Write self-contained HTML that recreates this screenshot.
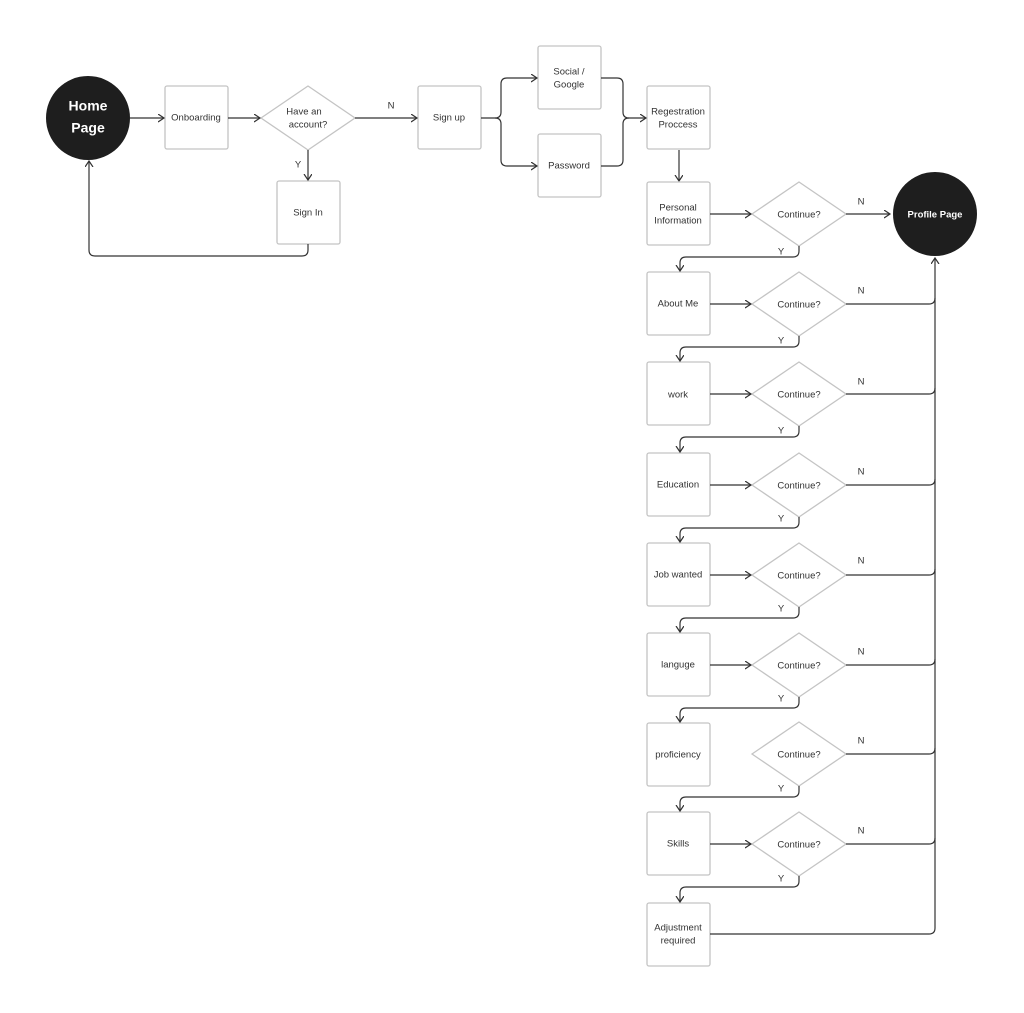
<!DOCTYPE html>
<html><head><meta charset="utf-8"><style>
html,body{margin:0;padding:0;background:#fff;}
svg{display:block}
text{font-family:"Liberation Sans",sans-serif;font-size:9.5px;fill:#333;text-anchor:middle;dominant-baseline:middle}
.b{fill:#fff;stroke:#c4c4c4;stroke-width:1.3}
.l{fill:none;stroke:#333;stroke-width:1.2}
</style></head><body>
<svg width="1024" height="1013" viewBox="0 0 1024 1013" xmlns="http://www.w3.org/2000/svg">
<defs><marker id="a" markerWidth="8" markerHeight="10" refX="6" refY="4" orient="auto" markerUnits="userSpaceOnUse"><path d="M0,0 L6,4 L0,8" fill="none" stroke="#333" stroke-width="1.2"/></marker></defs>

<!-- top section -->
<circle cx="88" cy="118" r="42" fill="#1e1e1e"/>
<text x="88" y="107" style="fill:#fff;font-size:14px;font-weight:bold">Home</text>
<text x="88" y="129" style="fill:#fff;font-size:14px;font-weight:bold">Page</text>
<rect class="b" x="165" y="86" width="63" height="63" rx="2"/><text x="196" y="118">Onboarding</text>
<polygon class="b" points="261,118 308,86 355,118 308,150"/><text x="304" y="112">Have an</text><text x="308" y="125">account?</text>
<rect class="b" x="418" y="86" width="63" height="63" rx="2"/><text x="449" y="118">Sign up</text>
<rect class="b" x="277" y="181" width="63" height="63" rx="2"/><text x="308" y="213">Sign In</text>
<rect class="b" x="538" y="46" width="63" height="63" rx="2"/><text x="569" y="72">Social /</text><text x="569" y="85">Google</text>
<rect class="b" x="538" y="134" width="63" height="63" rx="2"/><text x="569" y="166">Password</text>
<rect class="b" x="647" y="86" width="63" height="63" rx="2"/><text x="678" y="112">Regestration</text><text x="678" y="125">Proccess</text>

<path class="l" d="M130,118 H164" marker-end="url(#a)"/>
<path class="l" d="M228,118 H260" marker-end="url(#a)"/>
<path class="l" d="M355,118 H417" marker-end="url(#a)"/>
<text x="391" y="106">N</text>
<path class="l" d="M308,150 V180" marker-end="url(#a)"/>
<text x="298" y="165">Y</text>
<path class="l" d="M308,244 V250 Q308,256 302,256 H95 Q89,256 89,250 V161" marker-end="url(#a)"/>
<path class="l" d="M481,118 H495 Q501,118 501,112 V84 Q501,78 507,78 H537" marker-end="url(#a)"/>
<path class="l" d="M495,118 Q501,118 501,124 V160 Q501,166 507,166 H537" marker-end="url(#a)"/>
<path class="l" d="M601,78 H617 Q623,78 623,84 V112 Q623,118 629,118 H646" marker-end="url(#a)"/>
<path class="l" d="M601,166 H617 Q623,166 623,160 V124 Q623,118 629,118"/>
<path class="l" d="M679,150 V181" marker-end="url(#a)"/>

<!-- profile -->
<circle cx="935" cy="214" r="42" fill="#1e1e1e"/>
<text x="935" y="215" style="fill:#fff;font-weight:bold">Profile Page</text>

<!-- rows -->
<rect class="b" x="647" y="182" width="63" height="63" rx="2"/><text x="678" y="208">Personal</text><text x="678" y="221">Information</text>
<rect class="b" x="647" y="272" width="63" height="63" rx="2"/><text x="678" y="304">About Me</text>
<rect class="b" x="647" y="362" width="63" height="63" rx="2"/><text x="678" y="395">work</text>
<rect class="b" x="647" y="453" width="63" height="63" rx="2"/><text x="678" y="485">Education</text>
<rect class="b" x="647" y="543" width="63" height="63" rx="2"/><text x="678" y="575">Job wanted</text>
<rect class="b" x="647" y="633" width="63" height="63" rx="2"/><text x="678" y="665">languge</text>
<rect class="b" x="647" y="723" width="63" height="63" rx="2"/><text x="678" y="755">proficiency</text>
<rect class="b" x="647" y="812" width="63" height="63" rx="2"/><text x="678" y="844">Skills</text>
<rect class="b" x="647" y="903" width="63" height="63" rx="2"/><text x="678" y="928">Adjustment</text><text x="678" y="941">required</text>

<g>
<polygon class="b" points="752,214 799,182 846,214 799,246"/><text x="799" y="215">Continue?</text>
<polygon class="b" points="752,304 799,272 846,304 799,336"/><text x="799" y="305">Continue?</text>
<polygon class="b" points="752,394 799,362 846,394 799,426"/><text x="799" y="395">Continue?</text>
<polygon class="b" points="752,485 799,453 846,485 799,517"/><text x="799" y="486">Continue?</text>
<polygon class="b" points="752,575 799,543 846,575 799,607"/><text x="799" y="576">Continue?</text>
<polygon class="b" points="752,665 799,633 846,665 799,697"/><text x="799" y="666">Continue?</text>
<polygon class="b" points="752,754 799,722 846,754 799,786"/><text x="799" y="755">Continue?</text>
<polygon class="b" points="752,844 799,812 846,844 799,876"/><text x="799" y="845">Continue?</text>
</g>

<!-- box->diamond -->
<path class="l" d="M710,214 H751" marker-end="url(#a)"/>
<path class="l" d="M710,304 H751" marker-end="url(#a)"/>
<path class="l" d="M710,394 H751" marker-end="url(#a)"/>
<path class="l" d="M710,485 H751" marker-end="url(#a)"/>
<path class="l" d="M710,575 H751" marker-end="url(#a)"/>
<path class="l" d="M710,665 H751" marker-end="url(#a)"/>
<path class="l" d="M710,844 H751" marker-end="url(#a)"/>

<!-- Y connectors -->
<path class="l" d="M799,246 V251 Q799,257 793,257 H686 Q680,257 680,263 V271" marker-end="url(#a)"/>
<path class="l" d="M799,336 V341 Q799,347 793,347 H686 Q680,347 680,353 V361" marker-end="url(#a)"/>
<path class="l" d="M799,426 V431 Q799,437 793,437 H686 Q680,437 680,443 V452" marker-end="url(#a)"/>
<path class="l" d="M799,517 V522 Q799,528 793,528 H686 Q680,528 680,534 V542" marker-end="url(#a)"/>
<path class="l" d="M799,607 V612 Q799,618 793,618 H686 Q680,618 680,624 V632" marker-end="url(#a)"/>
<path class="l" d="M799,697 V702 Q799,708 793,708 H686 Q680,708 680,714 V722" marker-end="url(#a)"/>
<path class="l" d="M799,786 V791 Q799,797 793,797 H686 Q680,797 680,803 V811" marker-end="url(#a)"/>
<path class="l" d="M799,876 V881 Q799,887 793,887 H686 Q680,887 680,893 V902" marker-end="url(#a)"/>
<text x="781" y="252">Y</text><text x="781" y="341">Y</text><text x="781" y="431">Y</text><text x="781" y="519">Y</text>
<text x="781" y="609">Y</text><text x="781" y="699">Y</text><text x="781" y="789">Y</text><text x="781" y="879">Y</text>

<!-- N connectors -->
<path class="l" d="M846,214 H890" marker-end="url(#a)"/>
<path class="l" d="M846,304 H929 Q935,304 935,298"/>
<path class="l" d="M846,394 H929 Q935,394 935,388"/>
<path class="l" d="M846,485 H929 Q935,485 935,479"/>
<path class="l" d="M846,575 H929 Q935,575 935,569"/>
<path class="l" d="M846,665 H929 Q935,665 935,659"/>
<path class="l" d="M846,754 H929 Q935,754 935,748"/>
<path class="l" d="M846,844 H929 Q935,844 935,838"/>
<path class="l" d="M710,934 H929 Q935,934 935,928 V258" marker-end="url(#a)"/>
<text x="861" y="202">N</text><text x="861" y="291">N</text><text x="861" y="382">N</text><text x="861" y="472">N</text>
<text x="861" y="561">N</text><text x="861" y="652">N</text><text x="861" y="741">N</text><text x="861" y="831">N</text>
</svg>
</body></html>
